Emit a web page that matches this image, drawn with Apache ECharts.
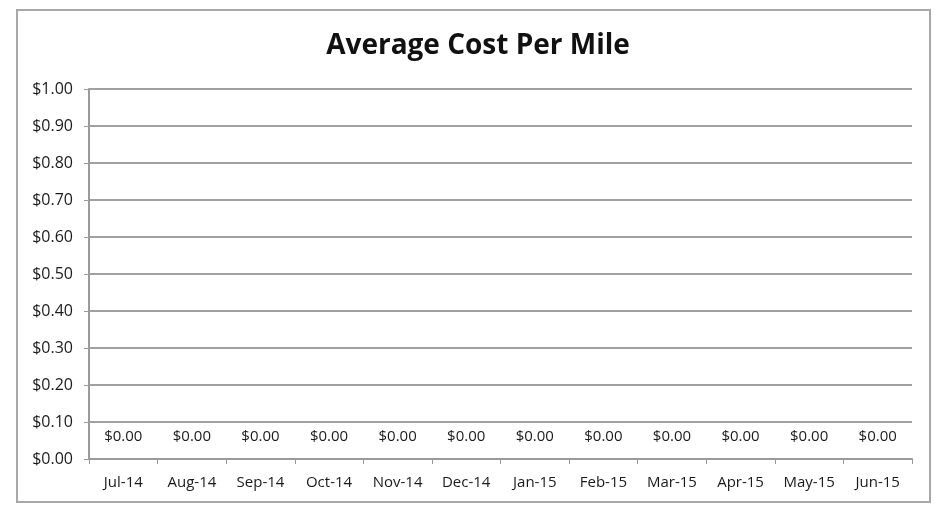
<!DOCTYPE html>
<html>
<head>
<meta charset="utf-8">
<script src="https://cdn.jsdelivr.net/npm/echarts@6/dist/echarts.min.js"></script>
<style>
  html, body { margin: 0; padding: 0; background: #fff; }
  #frame {
    position: absolute; left: 16px; top: 9px; width: 915px; height: 494px;
    border: 2px solid #a8a8a8; box-sizing: border-box;
  }
  #chart { position: absolute; left: 0; top: 0; width: 936px; height: 505px; }
</style>
</head>
<body>
<div id="frame"></div>
<div id="chart"></div>
<script>
// 月份
const months = ['Jul-14', 'Aug-14', 'Sep-14', 'Oct-14', 'Nov-14', 'Dec-14',
  'Jan-15', 'Feb-15', 'Mar-15', 'Apr-15', 'May-15', 'Jun-15']
// 每英里平均成本
const costPerMile = [0, 0, 0, 0, 0, 0, 0, 0, 0, 0, 0, 0]
// y 轴范围
const yMin = 0
const yMax = 1
const yStep = 0.1

const font = "'Open Sans', sans-serif"
const money = v => '$' + Number(v).toFixed(2)

const chart = echarts.init(document.getElementById('chart'))
chart.setOption({
  animation: false,
  title: {
    text: 'Average Cost Per Mile',
    left: 473,
    textAlign: 'center',
    top: 27,
    textStyle: { fontFamily: font, fontSize: 28, fontWeight: 'bold', color: '#111' }
  },
  grid: { left: 89, right: 24, top: 89, bottom: 46 },
  xAxis: {
    type: 'category',
    data: months,
    boundaryGap: true,
    axisLine: { lineStyle: { color: '#9a9a9a', width: 2 } },
    axisTick: { show: true, interval: 0, length: 5, lineStyle: { color: '#9a9a9a' } },
    axisLabel: { interval: 0, hideOverlap: false, color: '#1a1a1a', fontFamily: font, fontSize: 15, margin: 16 }
  },
  yAxis: {
    type: 'value',
    min: yMin,
    max: yMax,
    interval: yStep,
    axisLine: { show: true, lineStyle: { color: '#9a9a9a', width: 2 } },
    axisTick: { show: true, length: 5, lineStyle: { color: '#9a9a9a' } },
    splitLine: { lineStyle: { color: '#a0a0a0', width: 2 } },
    axisLabel: { color: '#1a1a1a', fontFamily: font, fontSize: 16, margin: 16, formatter: money }
  },
  series: [{
    type: 'line',
    data: costPerMile,
    showSymbol: true,
    symbol: 'circle',
    symbolSize: 1,
    itemStyle: { color: 'rgba(0,0,0,0)' },
    lineStyle: { color: '#9a9a9a', width: 2 },
    label: {
      show: true,
      position: 'top',
      distance: 14,
      color: '#1a1a1a',
      fontFamily: font,
      fontSize: 15,
      formatter: p => money(p.value)
    },
    labelLayout: { hideOverlap: false }
  }]
})
</script>
</body>
</html>
